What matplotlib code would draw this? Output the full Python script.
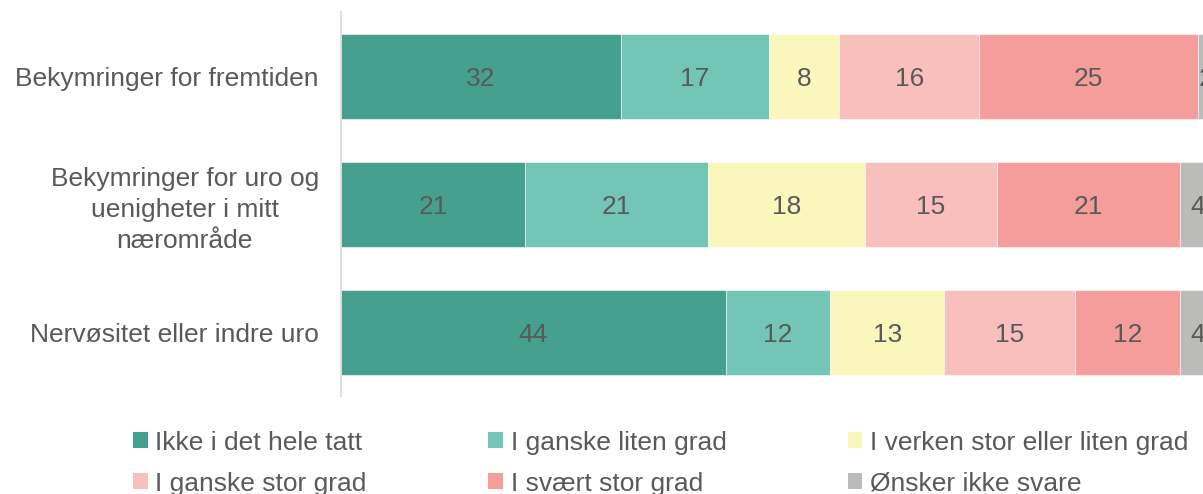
import numpy as np
import matplotlib.pyplot as plt
from matplotlib.patches import Patch

plt.rcParams['font.family'] = ['Liberation Sans', 'DejaVu Sans']

# data
categories = [
    "Bekymringer for fremtiden",
    "Bekymringer for uro og\nuenigheter i mitt\nnærområde",
    "Nervøsitet eller indre uro",
]
series_names = [
    "Ikke i det hele tatt",
    "I ganske liten grad",
    "I verken stor eller liten grad",
    "I ganske stor grad",
    "I svært stor grad",
    "Ønsker ikke svare",
]
values = [
    [32, 21, 44],
    [17, 21, 12],
    [8, 18, 13],
    [16, 15, 15],
    [25, 21, 12],
    [2, 4, 4],
]
colors = ["#45A18E", "#73C5B5", "#FAF7BC", "#F8BFBC", "#F59D9A", "#BBBCBA"]
text_color = "#595959"
fs = 19

fig = plt.figure(figsize=(12.03, 4.94), dpi=100)
# axes runs past the right edge, like the original (clipped chart)
ax = fig.add_axes([0.2835, 0.198, 0.7265, 0.7773])

y = np.arange(len(categories))
left = np.zeros(len(categories))
for name, vals, col in zip(series_names, values, colors):
    vals = np.array(vals, dtype=float)
    ax.barh(y, vals, left=left, height=0.667, color=col, label=name,
            edgecolor="white", linewidth=0.4)
    for yi, (l, v) in enumerate(zip(left, vals)):
        ax.text(l + v / 2, yi, f"{int(v)}", ha="center", va="center_baseline",
                fontsize=fs, color=text_color)
    left += vals

ax.set_xlim(0, 100)
ax.set_ylim(2.5, -0.5)
ax.set_yticks(y)
ax.set_yticklabels(categories, fontsize=fs, color=text_color,
                   multialignment="center", linespacing=1.35)
ax.tick_params(axis="y", length=0, pad=16)
ax.set_xticks([])
for s in ["top", "right", "bottom"]:
    ax.spines[s].set_visible(False)
ax.spines["left"].set_color("#D9D9D9")
ax.spines["left"].set_linewidth(1.2)

handles = [Patch(facecolor=c, edgecolor="none") for c in colors]
order = [0, 3, 1, 4, 2, 5]
leg = fig.legend([handles[i] for i in order], [series_names[i] for i in order],
                 ncol=3, loc="upper left", bbox_to_anchor=(0.1106, 0.128),
                 frameon=False, fontsize=fs, handlelength=0.55, handleheight=0.55,
                 handletextpad=0.3, columnspacing=4.6, labelspacing=0.64,
                 borderpad=0, borderaxespad=0)
for t in leg.get_texts():
    t.set_color(text_color)

fig.savefig("out.png", dpi=100)
